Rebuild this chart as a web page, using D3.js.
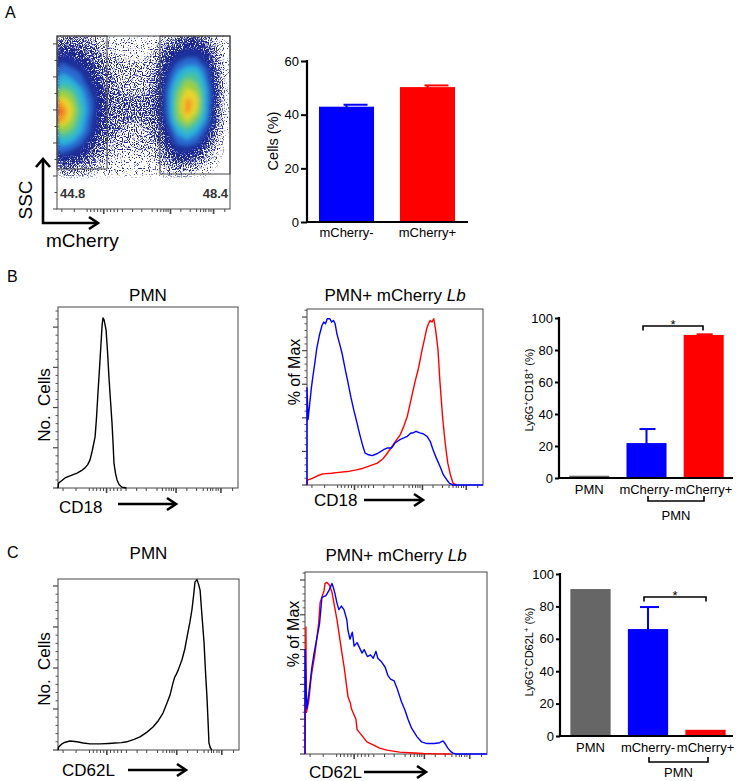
<!DOCTYPE html>
<html><head><meta charset="utf-8">
<script src="https://cdn.jsdelivr.net/npm/d3@7"></script>
<style>body{margin:0;background:#fff} svg{display:block} text{font-family:"Liberation Sans",Arial,Helvetica,sans-serif}</style>
</head><body><svg id="fig" width="739" height="781"></svg>
<script>
// ---------------- DATA ----------------
// Panel A: flow density (rows top->bottom SSC, cols left->right mCherry), levels 0-10
const flowDensity = [
 [2,2,2,1.5,1,0.8,0.4,0.3,0.3,0.4,0.8,1.5,2,2.5,2.5,2,1,0.3],
 [3,3,2.5,2,1.5,1,0.7,0.6,0.6,0.7,1.2,2.5,3,3.5,3.5,3,1.5,0.3],
 [4,3.5,3,2.5,2,1.3,1,0.9,0.9,1,1.6,3,4,4.5,4.5,3.5,2,0.5],
 [5,4.5,4,3,2.2,1.6,1.2,1.1,1.1,1.2,2,3.5,5,6,6,4.5,2.5,0.5],
 [6,5.5,4.5,3.5,2.5,1.8,1.4,1.3,1.3,1.4,2.3,4,6,7.5,7,5,2.5,0.5],
 [7.5,7,5.5,4,3,2,1.6,1.5,1.5,1.6,2.6,4.5,7,8.5,8,5.5,3,0.5],
 [9,8,6,4.5,3,2.2,1.8,1.7,1.7,1.8,2.7,4.5,7.5,9.3,8.8,5.5,3,0.5],
 [9.8,8.5,6.5,4.5,3,2.2,1.8,1.7,1.7,1.8,2.7,4.5,7.5,9.5,8.3,5.5,2.5,0.5],
 [9.3,8,6,4.2,3,2.2,1.8,1.6,1.6,1.7,2.5,4.2,7,8.3,7,5,2.5,0.3],
 [7.5,7,5.5,4,2.8,2,1.6,1.5,1.4,1.5,2.2,3.5,5.5,6.5,5.5,4,2,0.3],
 [6,5.5,4.5,3.2,2.3,1.6,1.3,1.2,1.2,1.2,1.8,3,4.5,5,4.5,3,1.5,0.2],
 [4.5,4,3.5,2.5,1.8,1.2,1,0.9,0.9,0.9,1.3,2.5,3.5,3.5,3,2,1,0.1],
 [3,2.8,2.5,2,1.3,0.9,0.6,0.6,0.6,0.6,1,2,2.5,2.5,2,1.2,0.5,0],
 [1.5,1.5,1.2,1,0.6,0.4,0.3,0.3,0.3,0.3,0.5,1,1.2,1,0.8,0.5,0.2,0]
];
const flowLevels = [0.3, 0.9, 1.6, 2.4, 3.2, 4.2, 5.2, 6.2, 7.2, 8.2, 9.0, 9.6];
const flowLevelColors = ["#1e278e","#1e278e","#1e278e","#1e278e","#1f2f9a","#2a6ad2","#2cb2dc","#48c39a","#96d042","#ead42e","#f39a26","#e84e1c"];
const flowGates = [ {x0:0, x1:28.9, y0:60.6, y1:262}, {x0:59.5, x1:100, y0:53, y1:262} ];
const flowGateLabels = ["44.8", "48.4"];

// Panel A bars
const barACategories = ["mCherry-", "mCherry+"];
const barAValues = [42.6, 49.9];
const barAErrors = [1.1, 1.0];
const barATicks = [0, 20, 40, 60];

// Panels B/C bars
const barBCCategories = ["PMN", "mCherry-", "mCherry+"];
const barBValues = [0.8, 21.2, 88.8];
const barBErrors = [0, 9.4, 1.0];
const barCValues = [90.1, 65.4, 3.2];
const barCErrors = [0, 14.2, 0];
const barColors = ["#666666", "#0000ff", "#ff0000"];
const barBCTicks = [0, 20, 40, 60, 80, 100];

// Histogram axis ticks (position in % of axis width)
const histMajorTicks = [27, 65.6, 90.5];
const histMinorTicks = [2.8, 10, 17.4, 19.5, 21.5, 23.5, 25.3, 29, 31, 33, 35, 37.8, 43.7, 49, 55, 58, 60, 61.7, 63, 64.2, 71.6, 77, 80.7, 83, 84.8, 86, 87.8, 89, 97];

// Histograms [x position %, value]
const histB_PMN = [[0,0],[0.3,12],[2,18],[3.9,25],[7,31],[10.6,37],[13,43],[15,50],[16.5,58],[17.8,70],[19,92],[20.6,127],[21.4,175],[22.2,236],[23.1,300],[23.9,360],[24.5,405],[25,423],[25.6,418],[26.7,393],[27.5,340],[28.3,276],[29.2,215],[30,162],[30.6,110],[31.1,62],[32,35],[32.8,20],[34,8],[35.6,2],[38,0]];
const histC_PMN = [[0,0],[0.3,7],[2.2,15],[4,19],[6.6,22],[10.5,20],[14,17],[17.7,15],[23.2,15],[28,16],[31.5,17],[35,18],[38,20],[42,26],[45.3,32],[49,43],[52.5,56],[55.5,72],[58,90],[60,112],[61.9,134],[63.5,163],[64.5,178],[65.2,183],[66.5,196],[68.5,220],[70,245],[71.3,276],[72.8,310],[74,342],[75,380],[75.7,410],[76.8,415],[77.6,405],[78.5,390],[79.5,330],[80.7,261],[81.5,190],[82.3,129],[83,60],[83.4,17],[84.2,5],[85,0]];
const histB_blue = [[0,0],[0,58],[0.4,45],[0.6,39],[1.5,48],[2.5,58],[3.4,65],[4.5,73],[5.5,81],[7,89],[8.5,95],[9.5,97],[10.5,96],[11.5,99],[13,99],[14,97],[15,98],[16,96],[17,90],[18.8,83],[20,78],[21.5,70],[23.3,61],[25,52],[26.5,45],[28.4,37],[30,30],[31.5,24],[33,19],[35,18],[37,17.5],[39.8,18.6],[42,20],[43.5,21],[45.5,22],[48,22],[50,25],[52.8,27],[55,28],[57,29],[59,31],[60.2,31],[62,32],[64,31],[66,30.5],[68.2,29],[70,26],[71.6,21],[73.5,16],[75.6,11],[77.5,6],[79.5,3],[81,1],[83,0],[100,0]];
const histB_red = [[0,0],[0,3],[0.6,3],[3,4],[6,5.5],[9,6.6],[14,7],[18,7.5],[23,8],[28,9],[32,10],[36,11.5],[40,13],[43,15.5],[45,18],[47,21],[49,24],[51,27],[53,30],[55,35],[57,41],[58.5,48],[60,55],[61.5,62],[63,68],[64,73],[65.5,81],[67,88],[68,93],[69,96],[70,98],[71,97],[72,99],[73,93],[74.4,81],[75.5,62],[77,41],[78.5,25],[80,13],[81.5,6],[83,1],[85,0]];
const histC_red = [[0,0],[0.5,73],[0.8,24],[2,30],[3.5,45],[5.5,58],[7.5,75],[8.3,87],[10.5,94],[11,98],[12.1,98.6],[13.5,97],[14.8,93],[17.6,77],[20.3,58],[21.5,50],[23,38],[23.6,33],[25,29],[25.5,26],[28,20],[28.6,14],[31,11],[34,7],[38,5],[41,3.4],[45,2.2],[52,1.1],[60,0.6],[65,0.3],[72,0.1],[80,0]];
const histC_blue = [[0,0],[0,60],[0.5,40],[1,26],[2.5,38],[3.8,50],[5,58],[6.6,67],[8,75],[9.3,90],[11.5,91],[13.2,94],[14.8,98],[15.5,96],[16.5,92],[17.5,87],[18.6,83],[20,85],[21.4,83],[23,77],[23.6,71],[24.7,66],[26,70],[27,62],[28.6,64],[30,61],[31.3,58],[32.5,60],[34.3,56],[36,57],[37.5,55],[39,59],[40,55],[42,53],[44,50],[45.6,45],[47,43],[49,42],[50.5,38],[53,30],[55,25],[56.6,20],[58.5,15],[61.5,10],[64,7],[67,6],[71,6],[74,6.5],[75.8,7.5],[77,6],[78.5,3.4],[80,1.5],[81.3,0.5],[83,0],[100,0]];

// ---------------- DRAWING ----------------
const svg = d3.select("#fig");
svg.append("rect").attr("width", 739).attr("height", 781).attr("fill", "#fff");
const defs = svg.append("defs");

function text(g, x, y, s, o = {}) {
  const t = g.append("text").attr("x", x).attr("y", y).text(s)
    .attr("font-size", o.size || 14).attr("fill", o.fill || "#000")
    .attr("text-anchor", o.anchor || "start");
  if (o.weight) t.attr("font-weight", o.weight);
  if (o.rotate) t.attr("transform", `rotate(${o.rotate},${x},${y})`);
  return t;
}
function arrowH(g, xa, xb, y) {
  g.append("line").attr("x1", xa).attr("x2", xb - 2).attr("y1", y).attr("y2", y).attr("stroke", "#000").attr("stroke-width", 2.6);
  g.append("polyline").attr("points", `${xb-9},${y-6} ${xb},${y} ${xb-9},${y+6}`).attr("fill", "none").attr("stroke", "#000").attr("stroke-width", 2.6);
}

// panel letters
text(svg, 5, 18, "A", {size: 16});
text(svg, 7, 282, "B", {size: 16});
text(svg, 7, 558, "C", {size: 16});

// ---- Panel A flow plot ----
{
  const g = svg.append("g");
  const fx = d3.scaleLinear([0, 100], [57, 230]);
  const fy = d3.scaleLinear([0, 262], [209, 36]);
  const n = flowDensity[0].length, m = flowDensity.length;
  const flat = flowDensity.flat();
  const contours = d3.contours().size([n, m]).thresholds(flowLevels)(flat);
  const proj = d3.geoTransform({ point(px, py) { this.stream.point(fx(px / n * 100), fy(262 - py * 212 / m)); } });
  const path = d3.geoPath(proj);

  defs.append("clipPath").attr("id", "flowClip").append("rect").attr("x", 57).attr("y", 36).attr("width", 173).attr("height", 173);
  const speckThr = [-6.4, -5.6, -4.8, -3.8];
  speckThr.forEach((b, i) => {
    const f = defs.append("filter").attr("id", "speck" + i).attr("filterUnits", "userSpaceOnUse")
      .attr("x", 50).attr("y", 30).attr("width", 190).attr("height", 190);
    f.append("feGaussianBlur").attr("in", "SourceGraphic").attr("stdDeviation", 2).attr("result", "bl");
    f.append("feTurbulence").attr("type", "fractalNoise").attr("baseFrequency", 0.85).attr("numOctaves", 1).attr("seed", 4).attr("result", "noise");
    f.append("feColorMatrix").attr("in", "noise").attr("type", "matrix")
      .attr("values", `0 0 0 0 0  0 0 0 0 0  0 0 0 0 0  11 0 0 0 ${b}`).attr("result", "mask");
    f.append("feComposite").attr("in", "bl").attr("in2", "mask").attr("operator", "in");
  });
  const blur = defs.append("filter").attr("id", "soft").attr("filterUnits", "userSpaceOnUse")
    .attr("x", 40).attr("y", 20).attr("width", 210).attr("height", 210);
  blur.append("feGaussianBlur").attr("stdDeviation", 2.3);

  const dg = g.append("g").attr("clip-path", "url(#flowClip)");
  const low = dg.append("g");
  const high = dg.append("g").attr("filter", "url(#soft)");
  contours.forEach((c, i) => {
    if (i < speckThr.length) low.append("path").attr("d", path(c)).attr("fill", flowLevelColors[i]).attr("filter", `url(#speck${i})`);
    else high.append("path").attr("d", path(c)).attr("fill", flowLevelColors[i]);
  });

  g.append("rect").attr("x", 57).attr("y", 36).attr("width", 173).attr("height", 173).attr("fill", "none").attr("stroke", "#444").attr("stroke-width", 1);
  flowGates.forEach(gt => {
    g.append("rect").attr("x", fx(gt.x0)).attr("y", fy(gt.y1)).attr("width", fx(gt.x1) - fx(gt.x0)).attr("height", fy(gt.y0) - fy(gt.y1))
      .attr("fill", "none").attr("stroke", "#444").attr("stroke-width", 1);
  });
  text(g, 60, 198, flowGateLabels[0], {size: 13, weight: "bold", fill: "#333"});
  text(g, 228, 198, flowGateLabels[1], {size: 13, weight: "bold", fill: "#333", anchor: "end"});
  d3.range(0, 263, 25).forEach((v, i) => {
    const major = i % 2 === 0;
    g.append("line").attr("x1", 57 - (major ? 4 : 2.5)).attr("x2", 57).attr("y1", fy(v)).attr("y2", fy(v)).attr("stroke", "#444");
  });
  histMinorTicks.forEach(v => g.append("line").attr("x1", fx(v)).attr("x2", fx(v)).attr("y1", 209).attr("y2", 212).attr("stroke", "#444"));
  histMajorTicks.forEach(v => g.append("line").attr("x1", fx(v)).attr("x2", fx(v)).attr("y1", 209).attr("y2", 214).attr("stroke", "#444").attr("stroke-width", 1.6));
  g.append("line").attr("x1", 43).attr("x2", 43).attr("y1", 224).attr("y2", 160).attr("stroke", "#000").attr("stroke-width", 2.6);
  g.append("polyline").attr("points", "36,167 43,159 50,167").attr("fill", "none").attr("stroke", "#000").attr("stroke-width", 2.6);
  arrowH(g, 42, 98, 223);
  text(g, 32, 200, "SSC", {size: 19, rotate: -90, anchor: "middle"});
  text(g, 46, 247, "mCherry", {size: 19});
}

// ---- Bar chart helper ----
function barChart(cfg) {
  const g = svg.append("g");
  const x = d3.scaleBand().domain(cfg.categories).range([cfg.xAxis, cfg.xEnd]).paddingInner(cfg.pi).paddingOuter(cfg.po);
  const y = d3.scaleLinear([0, cfg.yMax], [cfg.yBase, cfg.yTop]);
  cfg.values.forEach((v, i) => {
    const c = cfg.categories[i];
    g.append("rect").attr("x", x(c)).attr("width", x.bandwidth()).attr("y", y(v) - 1).attr("height", y(0) - y(v) + 1).attr("fill", cfg.colors[i]);
    const e = cfg.errors[i];
    if (e > 0) {
      const cx = x(c) + x.bandwidth() / 2;
      g.append("line").attr("x1", cx).attr("x2", cx).attr("y1", y(v)).attr("y2", y(v + e)).attr("stroke", cfg.colors[i]).attr("stroke-width", 2);
      g.append("line").attr("x1", cx - cfg.capL).attr("x2", cx + cfg.capR).attr("y1", y(v + e)).attr("y2", y(v + e)).attr("stroke", cfg.colors[i]).attr("stroke-width", 2);
    }
    text(g, x(c) + x.bandwidth() / 2, cfg.catY, c, {size: 13, anchor: "middle"});
  });
  const ax = g.append("g").attr("transform", `translate(${cfg.xAxis},0)`)
    .call(d3.axisLeft(y).tickValues(cfg.ticks).tickSize(cfg.tickLen).tickPadding(2));
  ax.select(".domain").remove();
  ax.selectAll("line").attr("stroke", "#000").attr("stroke-width", 2);
  ax.selectAll("text").attr("font-size", 13).attr("font-family", '"Liberation Sans", Arial, sans-serif').attr("fill", "#000");
  g.append("line").attr("x1", cfg.xAxis).attr("x2", cfg.xAxis).attr("y1", cfg.yTop - 1).attr("y2", cfg.yBase + 1).attr("stroke", "#000").attr("stroke-width", 2.2);
  g.append("line").attr("x1", cfg.xAxis - 1).attr("x2", cfg.xLineEnd).attr("y1", cfg.yBase).attr("y2", cfg.yBase).attr("stroke", "#000").attr("stroke-width", 2.2);
  return {g, x, y};
}

// Panel A bars
{
  const {g} = barChart({categories: barACategories, values: barAValues, errors: barAErrors, colors: ["#0000ff", "#ff0000"],
    xAxis: 307, xEnd: 467, pi: 0.32, po: 0.148, xLineEnd: 468, yMax: 60, yBase: 222, yTop: 61, ticks: barATicks, tickLen: 6,
    capL: 3, capR: 21, catY: 237});
  text(g, 278, 141, "Cells (%)", {size: 14.5, rotate: -90, anchor: "middle"});
}

function ylabelSup(g, x, y, parts) {
  const t = g.append("text").attr("transform", `translate(${x},${y}) rotate(-90)`).attr("text-anchor", "middle").attr("font-size", 11);
  t.append("tspan").text(parts[0]);
  t.append("tspan").text("+").attr("font-size", 7.5).attr("dy", -4.5);
  t.append("tspan").text(parts[1]).attr("dy", 4.5);
  t.append("tspan").text("+").attr("font-size", 7.5).attr("dy", -4.5);
  t.append("tspan").text(" (%)").attr("dy", 4.5);
}
function sigBracket(g, xa, xb, y, down) {
  g.append("path").attr("d", `M${xa},${y + down}V${y}H${xb}V${y + down}`).attr("fill", "none").attr("stroke", "#000").attr("stroke-width", 1.6);
  text(g, (xa + xb) / 2, y + 3, "*", {size: 13, anchor: "middle"});
}
function groupBracket(g, xa, xb, y, labelY) {
  g.append("path").attr("d", `M${xa},${y - 5}V${y}H${xb}V${y - 5}`).attr("fill", "none").attr("stroke", "#000").attr("stroke-width", 1.6);
  text(g, (xa + xb) / 2, labelY, "PMN", {size: 13, anchor: "middle"});
}

// Panel B bars
{
  const {g} = barChart({categories: barBCCategories, values: barBValues, errors: barBErrors, colors: barColors,
    xAxis: 559, xEnd: 734, pi: 0.3, po: 0.18, xLineEnd: 733, yMax: 100, yBase: 478, yTop: 318, ticks: barBCTicks, tickLen: 4,
    capL: 7, capR: 9, catY: 494});
  ylabelSup(g, 533, 390, ["Ly6G", "CD18"]);
  sigBracket(g, 643, 703, 326, 4.5);
  groupBracket(g, 648, 704, 501, 520);
}
// Panel C bars
{
  const {g} = barChart({categories: barBCCategories, values: barCValues, errors: barCErrors, colors: barColors,
    xAxis: 560, xEnd: 736, pi: 0.3, po: 0.18, xLineEnd: 733, yMax: 100, yBase: 736, yTop: 574, ticks: barBCTicks, tickLen: 4,
    capL: 8, capR: 11, catY: 752});
  ylabelSup(g, 533, 652, ["Ly6G", "CD62L"]);
  sigBracket(g, 644, 706, 597, 4.5);
  groupBracket(g, 649, 708, 762, 777);
}

// ---- Histogram helper ----
function hist(cfg) {
  const g = svg.append("g");
  const x = d3.scaleLinear([0, 100], [cfg.x0, cfg.x1]);
  const y = d3.scaleLinear([0, cfg.yMax], [cfg.yBot, cfg.yTop]);
  const minor = cfg.yMajor / 5;
  d3.range(0, Math.floor(cfg.yMax / minor) + 1).forEach(k => {
    const v = k * minor, major = k % 5 === 0;
    g.append("line").attr("x1", cfg.x0 - (major ? 5 : 2.5)).attr("x2", cfg.x0).attr("y1", y(v)).attr("y2", y(v)).attr("stroke", "#444").attr("stroke-width", major ? 1.2 : 0.9);
  });
  histMinorTicks.forEach(v => g.append("line").attr("x1", x(v)).attr("x2", x(v)).attr("y1", cfg.yBot).attr("y2", cfg.yBot + 3).attr("stroke", "#444"));
  histMajorTicks.forEach(v => g.append("line").attr("x1", x(v)).attr("x2", x(v)).attr("y1", cfg.yBot).attr("y2", cfg.yBot + 5).attr("stroke", "#444").attr("stroke-width", 1.6));
  g.append("rect").attr("x", cfg.x0).attr("y", cfg.yTop).attr("width", cfg.x1 - cfg.x0).attr("height", cfg.yBot - cfg.yTop).attr("fill", "none").attr("stroke", "#444").attr("stroke-width", 1);
  const line = d3.line().x(d => x(d[0])).y(d => y(d[1]));
  cfg.series.forEach(s => g.append("path").datum(s.data).attr("d", line).attr("fill", "none").attr("stroke", s.color).attr("stroke-width", 1.4).attr("stroke-linejoin", "round"));
  const t = g.append("text").attr("x", (cfg.x0 + cfg.x1) / 2).attr("y", cfg.titleY).attr("text-anchor", "middle").attr("font-size", 17);
  if (cfg.italic) { t.append("tspan").text(cfg.title + " "); t.append("tspan").text(cfg.italic).attr("font-style", "italic"); }
  else t.text(cfg.title);
  text(g, cfg.ylabX, cfg.ylabY, cfg.ylabel, {size: cfg.ylabSize || 17, rotate: -90, anchor: "middle"});
  text(g, cfg.xlabX, cfg.xlabY, cfg.xlabel, {size: 17});
  arrowH(g, cfg.arrow[0], cfg.arrow[1], cfg.arrow[2]);
}

hist({x0: 58, x1: 238, yTop: 307, yBot: 488, yMax: 450, yMajor: 100, series: [{data: histB_PMN, color: "#000"}],
  title: "PMN", titleY: 301, ylabel: "No.\u00a0 Cells", ylabX: 50, ylabY: 405, xlabel: "CD18", xlabX: 59, xlabY: 513, arrow: [118, 176, 504]});
hist({x0: 307, x1: 483, yTop: 309, yBot: 485, yMax: 104.8, yMajor: 20, series: [{data: histB_red, color: "#ff0000"}, {data: histB_blue, color: "#0000ff"}],
  title: "PMN+ mCherry", italic: "Lb", titleY: 301, ylabel: "% of Max", ylabX: 300, ylabY: 372, ylabSize: 16, xlabel: "CD18", xlabX: 314, xlabY: 506, arrow: [364, 423, 500]});
hist({x0: 58, x1: 239, yTop: 579, yBot: 750, yMax: 417, yMajor: 100, series: [{data: histC_PMN, color: "#000"}],
  title: "PMN", titleY: 559, ylabel: "No.\u00a0 Cells", ylabX: 50, ylabY: 669, xlabel: "CD62L", xlabX: 62, xlabY: 776, arrow: [128, 186, 770]});
hist({x0: 305, x1: 487, yTop: 572, yBot: 754, yMax: 104.6, yMajor: 20, series: [{data: histC_red, color: "#ff0000"}, {data: histC_blue, color: "#0000ff"}],
  title: "PMN+ mCherry", italic: "Lb", titleY: 561, ylabel: "% of Max", ylabX: 299, ylabY: 634, ylabSize: 16, xlabel: "CD62L", xlabX: 309, xlabY: 778, arrow: [364, 426, 772]});
</script></body></html>
